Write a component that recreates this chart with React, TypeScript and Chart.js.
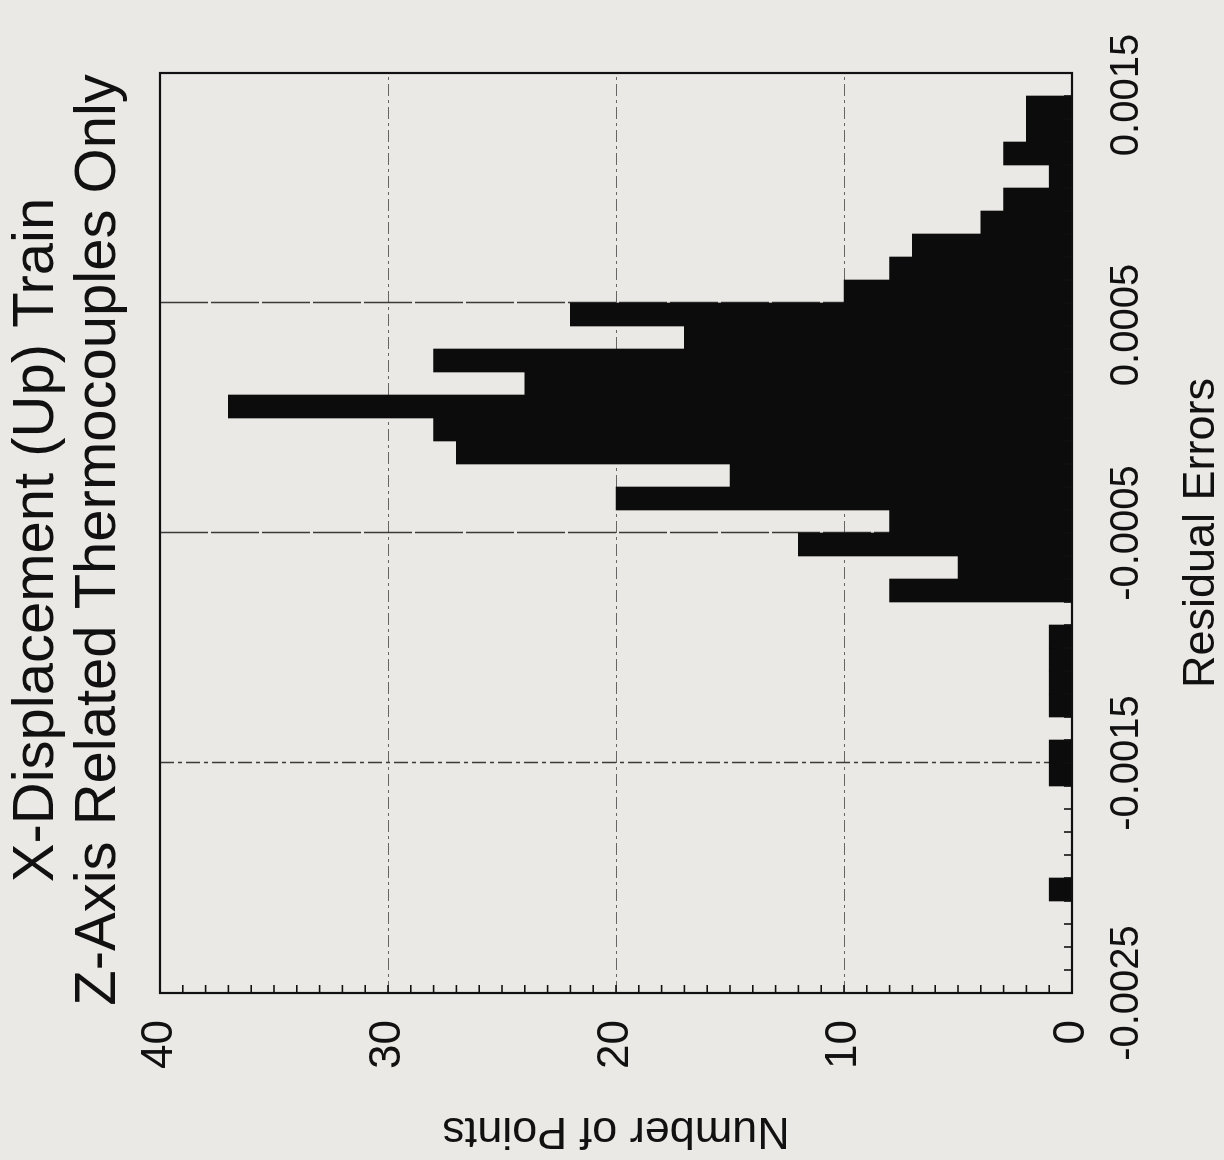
import React, { useEffect, useRef } from 'react';
import { Chart, registerables } from 'chart.js';

Chart.register(...registerables);

// Histogram bins (lower edge of each 0.0001-wide bin) and their counts
const binStarts = [
  -0.0025, -0.0024, -0.0023, -0.0022, -0.0021, -0.002, -0.0019, -0.0018, -0.0017, -0.0016,
  -0.0015, -0.0014, -0.0013, -0.0012, -0.0011, -0.001, -0.0009, -0.0008, -0.0007, -0.0006,
  -0.0005, -0.0004, -0.0003, -0.0002, -0.0001, 0.0, 0.0001, 0.0002, 0.0003, 0.0004,
  0.0005, 0.0006, 0.0007, 0.0008, 0.0009, 0.001, 0.0011, 0.0012, 0.0013, 0.0014,
];
const pointCounts = [
  0, 0, 0, 0, 1, 0, 0, 0, 0, 1,
  1, 0, 1, 1, 1, 1, 0, 8, 5, 12,
  8, 20, 15, 27, 28, 37, 24, 28, 17, 22,
  10, 8, 7, 4, 3, 1, 3, 2, 2, 0,
];

const residualTickValues = [-0.0025, -0.0015, -0.0005, 0.0005, 0.0015];
const residualTickLabels = ['-0.0025', '-0.0015', '-0.0005', '0.0005', '0.0015'];
const countTickValues = [0, 10, 20, 30, 40];
const countTickLabels = ['0', '10', '20', '30', '40'];

const titleLines = ['X-Displacement (Up) Train', 'Z-Axis Related Thermocouples Only'];
const residualAxisTitle = 'Residual Errors';
const countAxisTitle = 'Number of Points';

const BIN_WIDTH = 0.0001;
const FONT = '"Liberation Sans", Arial, Helvetica, sans-serif';
const INK = '#111111';
const PAPER = '#eae9e5';
// canvas is laid out upright, then turned a quarter turn counter-clockwise
const W = 1160;
const H = 1224;

function hLine(ctx: any, x0: number, x1: number, y: number) {
  ctx.beginPath();
  ctx.moveTo(x0, y);
  ctx.lineTo(x1, y);
  ctx.stroke();
}

function vLine(ctx: any, x: number, y0: number, y1: number) {
  ctx.beginPath();
  ctx.moveTo(x, y0);
  ctx.lineTo(x, y1);
  ctx.stroke();
}

const framePlugin = {
  id: 'frame',
  beforeDraw(chart: any) {
    const { ctx } = chart;
    ctx.save();
    ctx.fillStyle = PAPER;
    ctx.fillRect(0, 0, chart.width, chart.height);
    ctx.restore();
  },
  beforeDatasetsDraw(chart: any) {
    const { ctx, chartArea: a, scales } = chart;
    const x = scales.x;
    const y = scales.y;
    ctx.save();
    // count grid lines: thin dash-dot
    ctx.strokeStyle = '#666666';
    ctx.lineWidth = 1;
    ctx.setLineDash([12, 4, 3, 4]);
    countTickValues.slice(1, -1).forEach((v) => {
      hLine(ctx, a.left, a.right, Math.round(y.getPixelForValue(v)) + 0.5);
    });
    // residual grid lines
    ctx.strokeStyle = '#3a3a3a';
    ctx.lineWidth = 1.5;
    residualTickValues.slice(1, -1).forEach((v) => {
      ctx.setLineDash(v < -0.001 ? [14, 4, 4, 4] : [48, 3]);
      vLine(ctx, Math.round(x.getPixelForValue(v)) + 0.5, a.top, a.bottom);
    });
    ctx.restore();
  },
  afterDatasetsDraw(chart: any) {
    const { ctx, chartArea: a, scales } = chart;
    const x = scales.x;
    const y = scales.y;
    ctx.save();
    ctx.strokeStyle = INK;
    ctx.lineWidth = 1.6;
    ctx.setLineDash([]);
    // inward minor ticks on the count axis, one per point
    for (let i = 1; i < 40; i++) {
      const py = y.getPixelForValue(i);
      hLine(ctx, a.left, a.left + 8, py);
    }
    // inward minor ticks on the residual axis, one per bin
    const steps = Math.round((x.max - x.min) / BIN_WIDTH);
    for (let i = 1; i < steps; i++) {
      const px = x.getPixelForValue(x.min + i * BIN_WIDTH);
      vLine(ctx, px, a.bottom, a.bottom - 8);
    }
    // plot frame
    ctx.lineWidth = 2.2;
    ctx.strokeRect(a.left, a.top, a.right - a.left, a.bottom - a.top);
    ctx.restore();
  },
  afterDraw(chart: any) {
    const { ctx, chartArea: a, scales } = chart;
    const x = scales.x;
    ctx.save();
    ctx.fillStyle = INK;
    // residual tick labels; unsigned labels sit a little toward the negative side
    ctx.font = `40px ${FONT}`;
    ctx.textAlign = 'center';
    ctx.textBaseline = 'alphabetic';
    residualTickValues.forEach((v, i) => {
      const px = x.getPixelForValue(v) - (v > 0 ? 22 : 0);
      ctx.fillText(residualTickLabels[i], px, a.bottom + 66);
    });
    // two-line title
    ctx.font = `58px ${FONT}`;
    ctx.fillText(titleLines[0], 620, 53);
    ctx.fillText(titleLines[1], 620, 115);
    ctx.restore();
  },
};

export default function App() {
  const canvasRef = useRef<HTMLCanvasElement>(null);

  useEffect(() => {
    const canvas = canvasRef.current;
    if (!canvas) return;
    const chart = new Chart(canvas, {
      type: 'bar',
      data: {
        datasets: [
          {
            label: countAxisTitle,
            data: binStarts.map((s, i) => ({ x: s + BIN_WIDTH / 2, y: pointCounts[i] })),
            backgroundColor: '#0c0c0c',
            borderWidth: 0,
            barPercentage: 1,
            categoryPercentage: 1,
          },
        ],
      },
      options: {
        responsive: false,
        animation: false,
        devicePixelRatio: 1,
        layout: { padding: { top: 160, right: 73, left: 0, bottom: 0 } },
        plugins: {
          legend: { display: false },
          title: { display: false },
          tooltip: { enabled: false },
        },
        scales: {
          x: {
            type: 'linear',
            min: -0.0025,
            max: 0.0015,
            offset: false,
            afterBuildTicks: (s: any) => {
              s.ticks = residualTickValues.map((value) => ({ value }));
            },
            afterFit: (s: any) => {
              s.height = 152;
              s.paddingLeft = 0;
              s.paddingRight = 0;
            },
            grid: { display: false, drawTicks: false },
            border: { display: false },
            ticks: { display: false },
            title: {
              display: true,
              text: residualAxisTitle,
              color: INK,
              font: { family: FONT, size: 45, lineHeight: 1 },
              padding: { top: 0, bottom: 0 },
            },
          },
          y: {
            type: 'linear',
            min: 0,
            max: 40,
            afterBuildTicks: (s: any) => {
              s.ticks = countTickValues.map((value) => ({ value }));
            },
            afterFit: (s: any) => {
              s.width = 167;
              s.paddingTop = 0;
              s.paddingBottom = 0;
            },
            grid: { display: false, drawTicks: false },
            border: { display: false },
            ticks: {
              autoSkip: false,
              padding: 27,
              color: INK,
              font: { family: FONT, size: 44, lineHeight: 1 },
              callback: (_v: any, i: number) => countTickLabels[i],
            },
            title: {
              display: true,
              text: countAxisTitle,
              color: INK,
              font: { family: FONT, size: 45, lineHeight: 1 },
              padding: { top: 7, bottom: 0 },
            },
          },
        },
      },
      plugins: [framePlugin],
    } as any);
    return () => chart.destroy();
  }, []);

  return (
    <div
      style={{
        position: 'fixed',
        left: 0,
        top: 0,
        width: 1224,
        height: 1160,
        background: PAPER,
        overflow: 'hidden',
      }}
    >
      <div
        style={{
          position: 'absolute',
          left: 0,
          top: 0,
          width: W,
          height: H,
          transformOrigin: '0 0',
          transform: `translate(0px, ${W}px) rotate(-90deg)`,
        }}
      >
        <canvas ref={canvasRef} width={W} height={H} style={{ display: 'block', width: W, height: H }} />
      </div>
    </div>
  );
}
